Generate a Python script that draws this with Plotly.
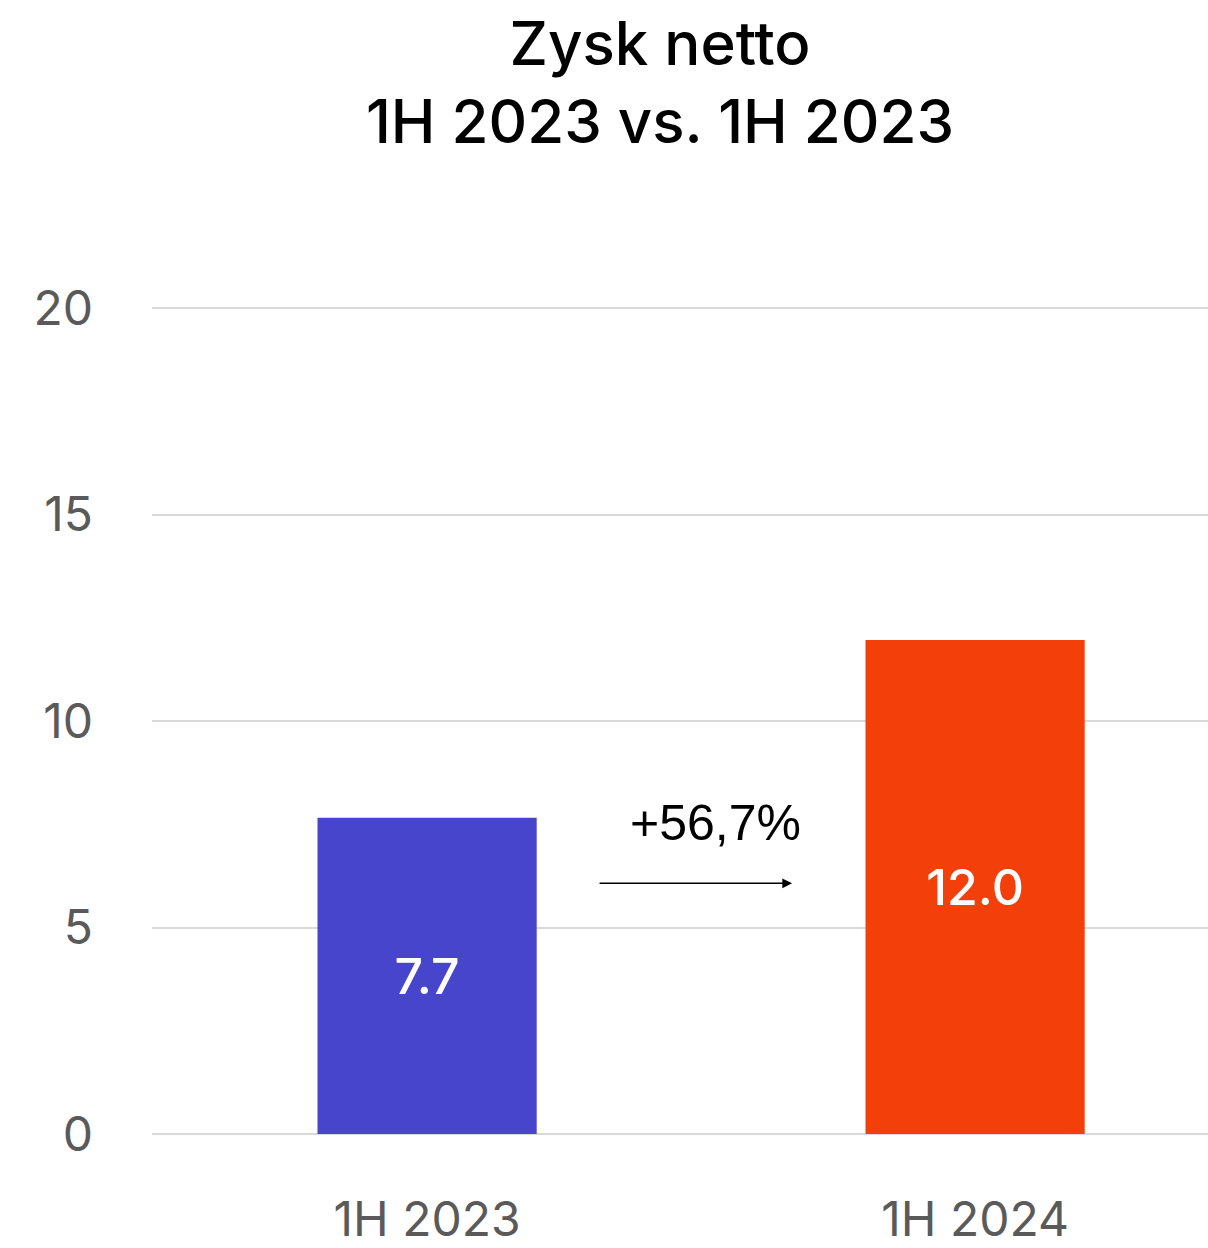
import plotly.graph_objects as go

categories = ["1H 2023", "1H 2024"]
values = [7.66, 11.96]
value_labels = ["7.7", "12.0"]
bar_colors = ["#4745CC", "#F33F0A"]
y_ticks = [0, 5, 10, 15, 20]
change_label = "+56,7%"
title_text = "Zysk netto<br>1H 2023 vs. 1H 2023"

fig = go.Figure()
fig.add_trace(go.Bar(
    x=categories,
    y=values,
    text=value_labels,
    textposition="inside",
    insidetextanchor="middle",
    textfont=dict(family="Inter", size=50, color="white", weight=500),
    marker=dict(color=bar_colors, line=dict(width=0)),
    width=0.4,
    hoverinfo="skip",
))

# growth label + arrow between the bars
fig.add_annotation(
    x=0.527, y=7.52, xref="x", yref="y", text=change_label, showarrow=False,
    font=dict(family="Liberation Sans", size=50, color="black"),
)
fig.add_annotation(
    x=0.666, y=6.07, ax=0.312, ay=6.07, xref="x", yref="y", axref="x", ayref="y",
    text="", showarrow=True, arrowhead=2, arrowsize=1.3, arrowwidth=1.5,
    arrowcolor="black",
)

fig.update_layout(
    width=1208,
    height=1248,
    title=dict(
        text=title_text, x=660 / 1208, xanchor="center", xref="container",
        y=1 - 65 / 1248, yanchor="top", yref="container",
        font=dict(family="Inter", size=60, color="black", weight=500),
    ),
    margin=dict(l=152, r=0, t=306, b=106, pad=0),
    paper_bgcolor="white",
    plot_bgcolor="white",
    showlegend=False,
)
fig.update_xaxes(
    range=[-0.502, 1.425],
    showgrid=False, zeroline=False, showline=False,
    tickfont=dict(family="Inter", size=48, color="#5a5a5a"),
    ticklabelstandoff=53,
)
fig.update_yaxes(
    range=[0, 20.05],
    tickvals=y_ticks,
    showgrid=True, gridcolor="#d9d9d9", gridwidth=2,
    zeroline=True, zerolinecolor="#d9d9d9", zerolinewidth=2,
    showline=False,
    tickfont=dict(family="Inter", size=48, color="#5a5a5a"),
    ticklabelstandoff=58,
)

fig.write_html(
    "out.html",
    config={"displayModeBar": False},
    post_script="document.body.style.margin='0';",
)
